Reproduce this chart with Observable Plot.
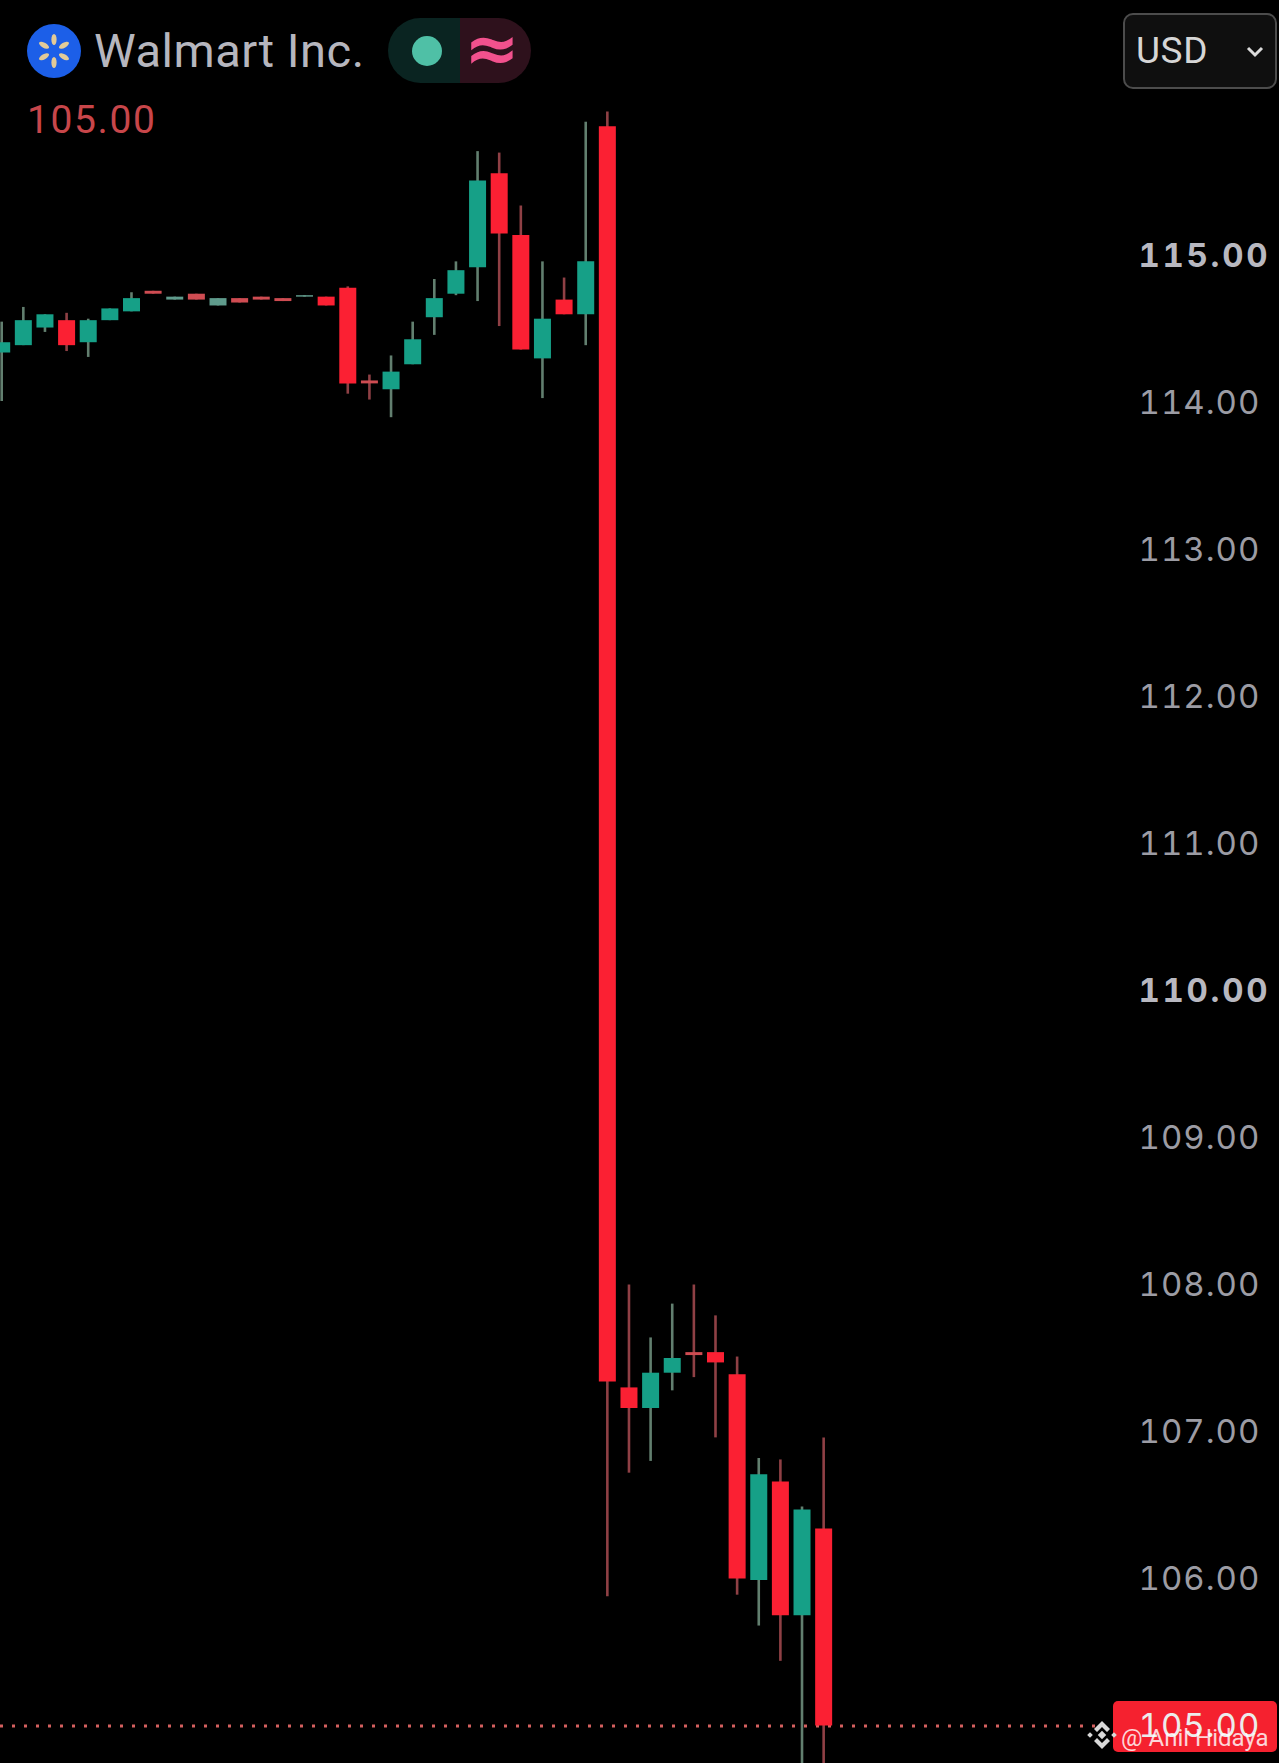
<!DOCTYPE html>
<html><head><meta charset="utf-8">
<script src="https://cdn.jsdelivr.net/npm/d3@7"></script>
<script src="https://cdn.jsdelivr.net/npm/@observablehq/plot@0.6"></script>
<style>
html,body{margin:0;padding:0;background:#000;overflow:hidden}
#wrap{position:relative;width:1279px;height:1763px;font-family:Inter,"Noto Sans",sans-serif}
#chart{position:absolute;left:0;top:0;z-index:1}
#chart svg{background:transparent;display:block}
#chart svg text{letter-spacing:1px}
#chart svg g[font-weight="700"] text{letter-spacing:2.7px}
.abs{position:absolute;white-space:nowrap}
</style></head><body>
<div id="wrap">
  <div class="abs" id="tag" style="left:1113px;top:1701px;width:164px;height:51px;background:#f5212f;border-radius:5px;z-index:0"></div>
  <div id="chart"></div>
  <svg class="abs" style="left:27px;top:24px;z-index:2" width="54" height="54" viewBox="-27 -27 54 54">
    <circle r="27" fill="#1c5fe8"/>
    <g fill="#e3cb98">
      <ellipse cx="0" cy="-11.5" rx="2.6" ry="5.6"/><ellipse cx="0" cy="11.5" rx="2.6" ry="5.6"/>
      <ellipse cx="0" cy="-11.5" rx="2.6" ry="5.6" transform="rotate(60)"/><ellipse cx="0" cy="-11.5" rx="2.6" ry="5.6" transform="rotate(120)"/>
      <ellipse cx="0" cy="-11.5" rx="2.6" ry="5.6" transform="rotate(240)"/><ellipse cx="0" cy="-11.5" rx="2.6" ry="5.6" transform="rotate(300)"/>
    </g>
  </svg>
  <div class="abs" style="left:94px;top:23px;font-size:47px;line-height:56px;color:#b6b6be;font-family:Roboto,Inter,sans-serif;letter-spacing:.5px">Walmart Inc.</div>
  <div class="abs" style="left:388px;top:18px;width:72px;height:65px;background:#0a2421;border-radius:33px 0 0 33px;z-index:2"></div>
  <div class="abs" style="left:460px;top:18px;width:71px;height:65px;background:#2e111c;border-radius:0 33px 33px 0;z-index:2"></div>
  <div class="abs" style="left:412px;top:36px;width:30px;height:30px;background:#4fc0a6;border-radius:50%;z-index:2"></div>
  <div class="abs" style="left:463px;top:13px;width:58px;text-align:center;font-size:66px;line-height:72px;font-weight:700;color:#f2518d;font-family:'DejaVu Sans',sans-serif;z-index:2">≈</div>
  <div class="abs" style="left:27px;top:97px;font-size:39px;line-height:47px;color:#c8464a;font-family:Roboto,Inter,sans-serif;letter-spacing:1.6px">105.00</div>
  <div class="abs" style="left:1123px;top:13px;width:150px;height:72px;border:2px solid #4c4c4c;border-radius:10px;background:#0f0f0f;z-index:2">
    <div class="abs" style="left:11px;top:14px;font-size:37px;line-height:44px;color:#d6d6d6;font-family:Roboto,Inter,sans-serif;letter-spacing:.6px">USD</div>
    <svg class="abs" style="left:121px;top:31px" width="18" height="12" viewBox="0 0 18 12"><path d="M2 2 L9 9 L16 2" fill="none" stroke="#dcdcdc" stroke-width="3"/></svg>
  </div>
  <svg class="abs" style="left:1087px;top:1720px;z-index:3" width="30" height="30" viewBox="-15 -15 30 30">
    <g fill="#d8d8d8"><rect x="-3" y="-3" width="6" height="6" transform="rotate(45)"/>
    <path d="M0 -14 L8 -6 L5 -3 L0 -8 L-5 -3 L-8 -6Z"/><path d="M0 14 L8 6 L5 3 L0 8 L-5 3 L-8 6Z"/>
    <rect x="-14" y="-2" width="4" height="4" transform="rotate(45 -12 0)"/><rect x="10" y="-2" width="4" height="4" transform="rotate(45 12 0)"/></g>
  </svg>
  <div class="abs" style="left:1121px;top:1720px;font-size:24px;line-height:36px;color:rgba(255,255,255,.82);font-family:Roboto,sans-serif;z-index:3">@ Anil Hidaya</div>
</div>
<script>
const index = d3.range(39);
const opens  = [114.34,114.39,114.51,114.56,114.41,114.56,114.62,114.76,114.70,114.74,114.66,114.71,114.72,114.71,114.72,114.72,114.78,114.15,114.09,114.26,114.58,114.74,114.92,115.56,115.14,114.30,114.70,114.60,115.88,107.30,107.16,107.40,107.54,107.54,107.39,105.99,106.66,105.75,106.34];
const closes = [114.41,114.56,114.60,114.39,114.56,114.64,114.71,114.74,114.72,114.70,114.71,114.68,114.70,114.69,114.73,114.66,114.13,114.13,114.21,114.43,114.71,114.90,115.51,115.15,114.36,114.57,114.60,114.96,107.34,107.16,107.40,107.50,107.52,107.47,106.00,106.71,105.75,106.47,105.00];
const highs  = [114.55,114.65,114.60,114.61,114.57,114.64,114.75,114.76,114.72,114.74,114.71,114.71,114.72,114.71,114.73,114.72,114.79,114.19,114.32,114.55,114.84,114.96,115.71,115.70,115.34,114.96,114.85,115.91,115.98,108.00,107.64,107.87,108.00,107.79,107.51,106.82,106.81,106.49,106.96];
const lows   = [114.01,114.39,114.48,114.35,114.31,114.56,114.62,114.74,114.70,114.70,114.66,114.68,114.70,114.69,114.72,114.66,114.06,114.02,113.90,114.26,114.46,114.73,114.69,114.52,114.36,114.03,114.60,114.39,105.88,106.72,106.80,107.28,107.37,106.96,105.89,105.68,105.44,104.60,104.60];
const regularTicks = [114,113,112,111,109,108,107,106];
const boldTicks = [115,110];
const lastPrice = 105;
const dottedEnd = 50.6;
const thinBody = 0.05;

const rows = index.map(i => ({i, open: opens[i], close: closes[i], high: highs[i], low: lows[i]}));
const isThin = d => Math.abs(d.close - d.open) < thinBody;
const up = d => d.close >= d.open;
const down = d => d.close < d.open;
const fmt = d3.format(".2f");
const axisFont = {anchor: "right", tickSize: 0, tickPadding: 0, tickFormat: fmt, label: null, textAnchor: "start", fontSize: 33};

const plot = Plot.plot({
  width: 1279, height: 1763,
  marginTop: 0, marginBottom: 0, marginLeft: 0, marginRight: 141,
  x: {type: "linear", domain: [-0.0555, 52.556], axis: null},
  y: {domain: [104.745, 116.738], axis: null},
  style: {background: "transparent", fontFamily: "Inter, sans-serif"},
  marks: [
    Plot.ruleY([lastPrice], {x1: -0.0555, x2: dottedEnd, stroke: "#d4605f", strokeWidth: 3, strokeDasharray: "3 9"}),
    Plot.ruleX(rows, {filter: up, x: "i", y1: "low", y2: "high", stroke: "#627f6f", strokeWidth: 2.6}),
    Plot.ruleX(rows, {filter: down, x: "i", y1: "low", y2: "high", stroke: "#8f4045", strokeWidth: 2.6}),
    Plot.ruleX(rows, {filter: d => up(d) && !isThin(d), x: "i", y1: "open", y2: "close", stroke: "#16a087", strokeWidth: 17}),
    Plot.ruleX(rows, {filter: d => down(d) && !isThin(d), x: "i", y1: "open", y2: "close", stroke: "#fb2033", strokeWidth: 17}),
    Plot.ruleX(rows, {filter: d => up(d) && isThin(d), x: "i", y1: "open", y2: "close", stroke: "#5f9b8c", strokeWidth: 17}),
    Plot.ruleX(rows, {filter: d => down(d) && isThin(d), x: "i", y1: "open", y2: "close", stroke: "#cf4c52", strokeWidth: 17}),
    Plot.axisY(regularTicks, {...axisFont, fill: "#9c9ca4"}),
    Plot.axisY(boldTicks, {...axisFont, fill: "#b8b8c0", fontWeight: 700}),
    Plot.axisY([lastPrice], {...axisFont, fill: "#ececec"})
  ]
});
document.getElementById("chart").appendChild(plot);
</script>
</body></html>
